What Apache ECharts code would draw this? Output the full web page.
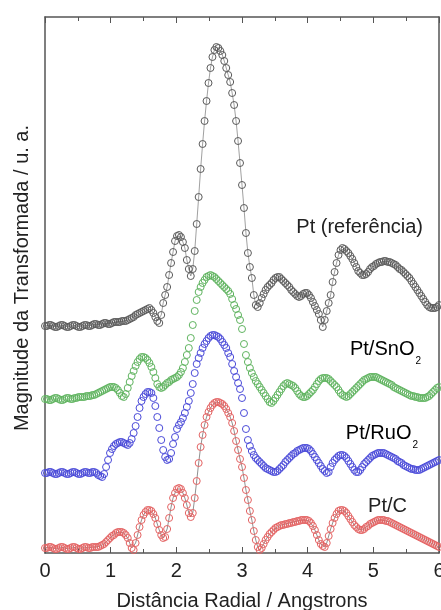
<!DOCTYPE html>
<html>
<head>
<meta charset="utf-8">
<script src="https://cdn.jsdelivr.net/npm/echarts@6/dist/echarts.min.js"></script>
<style>
  html, body { margin: 0; padding: 0; background: #fff; }
  #chart { width: 441px; height: 610px; }
</style>
</head>
<body>
<div id="chart"></div>
<script>
// radial distance grid (Angstrons): one point every rStep from 0 to 6
const rStep = 0.03
const xTicks = [0, 1, 2, 3, 4, 5, 6]

// magnitudes (arbitrary units, curves already offset)
const ptRef = [
  227,227,228,228,227,226,226,227,228,228,
  227,226,226,227,228,228,227,226,226,227,
  228,228,227,227,228,229,229,228,228,229,
  230,230,229,229,230,231,231,231,231,232,
  232,232,233,234,235,236,238,239,240,241,
  242,243,244,245,243,240,236,232,230,238,
  250,258,266,278,290,301,312,317,318,316,
  311,305,293,284,277,284,302,329,356,384,
  409,432,452,470,485,496,503,506,505,502,
  498,492,485,478,471,460,448,432,412,390,
  368,345,320,300,286,275,258,248,246,250,
  255,259,263,266,268,270,273,275,276,276,
  274,272,270,268,266,263,261,259,257,256,
  257,259,260,260,258,255,251,247,243,239,
  233,226,233,242,250,258,271,281,290,298,
  303,305,304,302,300,297,294,290,286,282,
  280,278,278,279,281,284,286,287,289,290,
  291,291,292,292,291,291,290,289,288,286,
  284,283,281,279,277,275,272,269,266,263,
  260,257,254,251,248,246,245,245,245,246,
  248
]
const ptSnO2 = [
  154,154,153,153,154,155,155,154,153,153,
  154,155,155,154,154,155,155,156,156,156,
  156,157,157,157,158,158,159,160,161,162,
  163,164,165,166,166,166,165,163,160,157,
  156,159,165,171,177,182,187,191,194,196,
  196,195,193,190,186,181,175,169,166,165,
  166,168,170,171,173,174,175,176,178,181,
  185,191,198,205,215,228,242,253,261,266,
  270,273,276,277,278,277,276,274,272,270,
  268,266,264,262,259,254,248,244,238,233,
  224,209,198,191,185,180,176,172,169,166,
  163,160,157,154,151,150,152,155,158,161,
  164,167,169,170,169,168,167,165,162,159,
  157,156,156,157,159,161,163,166,169,172,
  174,175,175,175,174,172,170,168,166,163,
  160,158,157,156,157,159,161,163,165,167,
  169,171,173,174,175,176,176,176,176,175,
  174,173,172,171,170,169,168,166,165,164,
  163,162,161,160,159,158,157,157,156,156,
  155,155,155,155,156,157,159,161,163,165,
  166
]
const ptRuO2 = [
  80,80,81,81,80,79,79,80,81,81,
  80,79,79,80,81,81,80,79,79,80,
  81,81,80,80,81,81,80,78,77,76,
  79,86,93,100,104,107,109,110,111,111,
  110,109,108,110,114,120,127,136,145,152,
  156,159,161,161,160,155,147,136,125,113,
  103,96,93,94,100,109,116,124,128,131,
  135,140,146,152,160,169,180,189,195,200,
  205,209,212,215,217,218,218,217,216,214,
  211,208,205,200,196,189,182,176,170,164,
  155,140,124,113,107,102,98,95,93,91,
  89,87,85,84,83,82,81,81,82,84,
  86,88,91,93,95,97,99,100,102,103,
  104,105,105,105,104,102,99,96,93,90,
  87,84,82,80,81,86,90,93,95,97,
  98,98,97,95,92,89,86,83,81,81,
  83,86,89,91,93,95,97,98,99,100,
  100,100,100,99,98,97,96,95,94,92,
  91,90,88,87,86,85,84,84,83,83,
  83,84,85,86,87,88,89,90,91,92,
  93
]
const ptC = [
  5,5,6,6,5,4,4,5,6,6,
  5,4,4,5,6,6,5,4,4,5,
  6,6,5,5,6,6,6,6,7,8,
  9,11,13,15,17,18,20,21,21,21,
  20,18,15,10,5,3,10,18,26,33,
  38,41,43,43,42,39,35,29,23,18,
  15,16,24,35,46,55,60,64,65,64,
  60,55,48,40,36,40,55,72,90,106,
  118,128,136,141,145,148,150,151,151,150,
  149,147,144,140,136,130,122,112,103,94,
  86,75,63,53,42,33,22,13,6,3,
  5,9,13,16,19,21,23,25,26,27,
  28,28,29,29,30,30,31,31,32,32,
  33,33,33,33,32,30,27,23,18,13,
  9,7,6,10,17,24,30,35,39,42,
  43,43,42,40,37,34,31,28,26,24,
  23,23,24,26,27,29,30,31,32,33,
  33,33,33,32,32,31,30,29,28,27,
  26,25,24,23,22,21,20,19,18,17,
  16,15,14,13,12,11,10,9,8,7,
  6
]

const font = '"Liberation Sans", Arial, sans-serif'
const axisColor = '#555'

function toPairs(values) {
  return values.map((v, i) => [+(i * rStep).toFixed(2), v])
}

// thin connecting line under the open circles
function connector(values, color, width) {
  return {
    type: 'line',
    data: toPairs(values),
    showSymbol: false,
    lineStyle: { color: color, width: width },
    silent: true,
    z: 1
  }
}

function rings(name, values, color) {
  return {
    name: name,
    type: 'scatter',
    data: toPairs(values),
    symbol: 'circle',
    symbolSize: 7,
    clip: false,
    large: false,
    itemStyle: { color: 'rgba(255,255,255,0)', borderColor: color, borderWidth: 1, opacity: 1 },
    emphasis: { disabled: true },
    z: 2
  }
}

function xAxisDef(pos) {
  const bottom = pos === 'bottom'
  return {
    type: 'value',
    position: pos,
    min: xTicks[0],
    max: xTicks[xTicks.length - 1],
    interval: 1,
    axisLine: { show: true, onZero: false, lineStyle: { color: axisColor, width: 1.5 } },
    axisTick: { show: true, inside: true, length: 6, lineStyle: { color: axisColor } },
    minorTick: { show: true, splitNumber: 2, length: 4, lineStyle: { color: axisColor } },
    splitLine: { show: false },
    axisLabel: {
      show: bottom, fontSize: 20, color: '#222', fontFamily: font, margin: 8,
      showMinLabel: true, showMaxLabel: true
    },
    name: bottom ? 'Distância Radial / Angstrons' : '',
    nameLocation: 'middle',
    nameGap: 38,
    nameTextStyle: { fontSize: 20, color: '#222', fontFamily: font }
  }
}

function yAxisDef(pos) {
  const left = pos === 'left'
  return {
    type: 'value',
    position: pos,
    min: 0,
    max: 536,
    axisLine: { show: true, onZero: false, lineStyle: { color: axisColor, width: 1.5 } },
    axisTick: { show: false },
    axisLabel: { show: false },
    splitLine: { show: false },
    name: left ? 'Magnitude da Transformada / u. a.' : '',
    nameLocation: 'middle',
    nameGap: 13,
    nameTextStyle: { fontSize: 20, color: '#222', fontFamily: font, padding: [0, 0, 0, 14] }
  }
}

const subRich = {
  a: { fontSize: 20, fontFamily: font, color: '#222', lineHeight: 20, verticalAlign: 'top' },
  s: { fontSize: 10, fontFamily: font, color: '#222', lineHeight: 12, padding: [17, 0, 0, 1], verticalAlign: 'top' }
}

function renderChart() {
  const chart = echarts.init(document.getElementById('chart'))
  chart.setOption({
    animation: false,
    grid: { left: 45, right: 2, top: 17, bottom: 57, containLabel: false, outerBoundsMode: 'none' },
    xAxis: [xAxisDef('bottom'), xAxisDef('top')],
    yAxis: [yAxisDef('left'), yAxisDef('right')],
    series: [
      connector(ptRef, '#777', 0.7),
      connector(ptC, '#444', 0.6),
      rings('Pt (referência)', ptRef, '#5a5a5a'),
      rings('Pt/SnO2', ptSnO2, '#5fb35f'),
      rings('Pt/RuO2', ptRuO2, '#4a4ad8'),
      rings('Pt/C', ptC, '#e36262')
    ],
    graphic: [
      { type: 'text', x: 423, y: 227, style: { text: 'Pt (referência)', font: '20px ' + font, fill: '#222', align: 'right', verticalAlign: 'middle' } },
      { type: 'text', x: 421, y: 339, style: { text: '{a|Pt/SnO}{s|2}', rich: subRich, align: 'right', verticalAlign: 'top' } },
      { type: 'text', x: 418, y: 423, style: { text: '{a|Pt/RuO}{s|2}', rich: subRich, align: 'right', verticalAlign: 'top' } },
      { type: 'text', x: 407, y: 506, style: { text: 'Pt/C', font: '20px ' + font, fill: '#222', align: 'right', verticalAlign: 'middle' } }
    ]
  })
}

document.addEventListener('DOMContentLoaded', renderChart)
</script>
</body>
</html>
